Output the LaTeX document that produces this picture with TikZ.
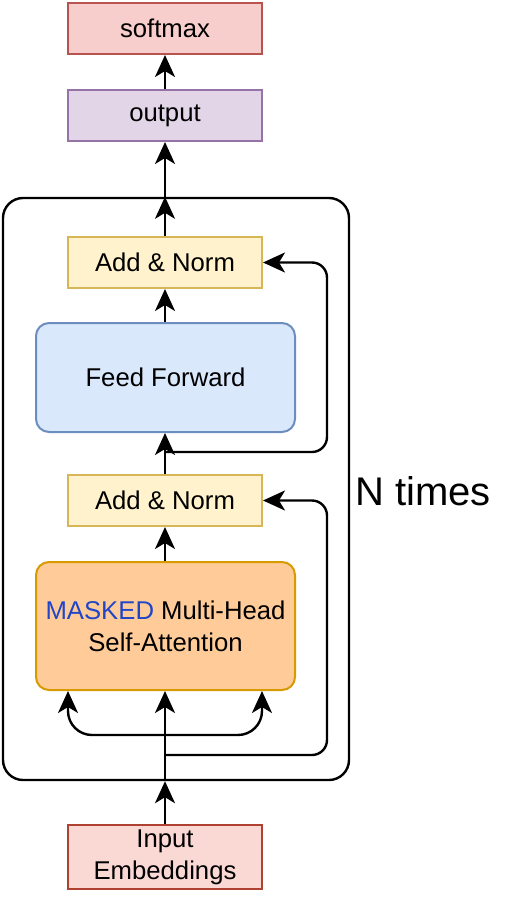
\documentclass[tikz,border=0pt]{standalone}
\usepackage{fontspec}
\setmainfont{Liberation Sans}
\usetikzlibrary{arrows.meta}
\definecolor{smfill}{HTML}{F8CECC}\definecolor{smdraw}{HTML}{B85450}
\definecolor{oufill}{HTML}{E1D5E7}\definecolor{oudraw}{HTML}{9673A6}
\definecolor{anfill}{HTML}{FFF2CC}\definecolor{andraw}{HTML}{D6B656}
\definecolor{fffill}{HTML}{DAE8FC}\definecolor{ffdraw}{HTML}{6C8EBF}
\definecolor{mhfill}{HTML}{FFCC99}\definecolor{mhdraw}{HTML}{D79B00}
\definecolor{infill}{HTML}{FAD9D5}\definecolor{indraw}{HTML}{AE4132}
\definecolor{maskblue}{RGB}{33,69,200}
\begin{document}
\begin{tikzpicture}[x=1pt,y=-1pt,
  box/.style={draw, line width=2pt, minimum width=194pt, minimum height=51pt, inner sep=0pt, align=center,
    font=\fontsize{25.7}{32}\selectfont},
  rbox/.style={box, rounded corners=13pt, minimum width=259pt},
  arr/.style={line width=2.4pt, -{Stealth[length=22pt,width=20pt,inset=6pt]}}]
\useasboundingbox (0,0) rectangle (504,900);
\node[draw, line width=2.4pt, rounded corners=20pt, minimum width=346pt, minimum height=582pt] (cont) at (176,489) {};
\node[box, fill=smfill, draw=smdraw] (softmax) at (165,28.5) {softmax};
\node[box, fill=oufill, draw=oudraw] (output) at (165,115.5) {output};
\node[box, fill=anfill, draw=andraw] (an1) at (165,262.5) {Add \& Norm};
\node[rbox, fill=fffill, draw=ffdraw, minimum height=109pt] (ff) at (165.5,377.5) {Feed Forward};
\node[box, fill=anfill, draw=andraw] (an2) at (165,500.5) {Add \& Norm};
\node[rbox, fill=mhfill, draw=mhdraw, minimum height=128pt] (mha) at (165.5,626) {\textcolor{maskblue}{MASKED} Multi-Head\\Self-Attention};
\node[box, fill=infill, draw=indraw, minimum height=64pt] (input) at (165,857) {Input\\Embeddings};
\node[anchor=base west, font=\fontsize{40}{48}\selectfont, inner sep=0pt] (ntimes) at (355,505) {N times};
\coordinate (split1) at (165,735);
\coordinate (split2) at (165,755);
\coordinate (split3) at (165,452);
% connectors
\draw[arr] (input.north) -- (input.north |- cont.south);
\draw[arr] (input.north |- cont.south) -- (mha.south -| input.north);
\draw[arr, rounded corners=24pt] (split1) -| ([xshift=-97pt]mha.south -| input.north);
\draw[arr, rounded corners=24pt] (split1) -| ([xshift=97pt]mha.south -| input.north);
\draw[arr, rounded corners=15pt] (split2) -| ([xshift=64pt]an2.east) -- (an2.east);
\draw[arr] (mha.north -| an2.south) -- (an2.south);
\draw[arr] (an2.north) -- (ff.south -| an2.north);
\draw[arr, rounded corners=15pt] (split3) -| ([xshift=64pt]an1.east) -- (an1.east);
\draw[arr] (ff.north -| an1.south) -- (an1.south);
\draw[arr] (an1.north) -- (an1.north |- cont.north);
\draw[arr] (an1.north |- cont.north) -- (output.south);
\draw[arr] (output.north) -- (softmax.south);
\end{tikzpicture}
\end{document}
